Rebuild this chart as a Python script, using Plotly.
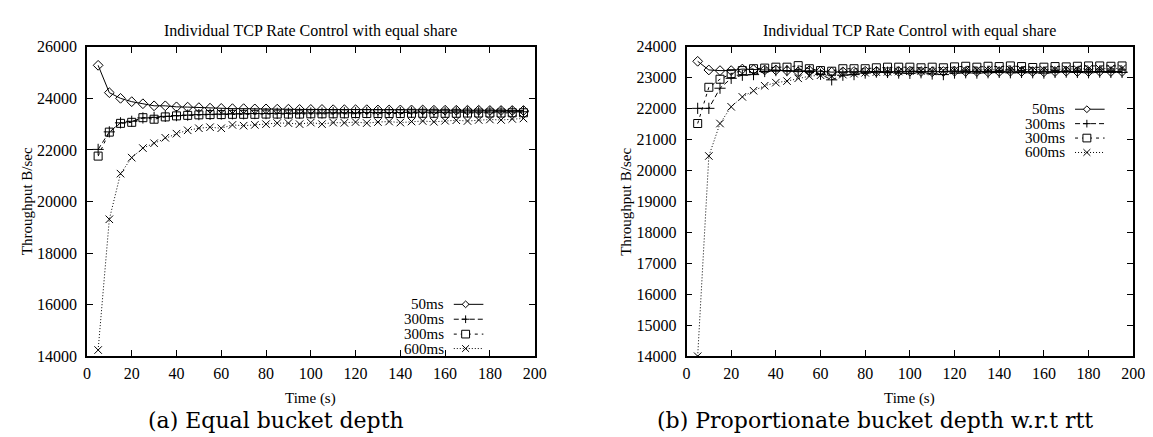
import plotly.graph_objects as go

W, H = 1153, 437

# ---------------- data ----------------
time_s = [5, 10, 15, 20, 25, 30, 35, 40, 45, 50, 55, 60, 65, 70, 75, 80, 85, 90, 95, 100,
          105, 110, 115, 120, 125, 130, 135, 140, 145, 150, 155, 160, 165, 170, 175, 180,
          185, 190, 195]

series_names = ["50ms", "300ms", "300ms", "600ms"]

# (a) Equal bucket depth
a_50 = [25280, 24220, 24000, 23870, 23790, 23710, 23710, 23670, 23660, 23640,
        23620, 23610, 23600, 23600, 23590, 23590, 23580, 23580, 23570, 23570,
        23570, 23560, 23560, 23560, 23560, 23550, 23550, 23550, 23550, 23550,
        23540, 23540, 23540, 23540, 23540, 23530, 23530, 23530, 23530]
a_300p = [22020, 22700, 23050, 23110, 23240, 23260, 23300, 23330, 23350, 23370,
          23380, 23390, 23400, 23400, 23410, 23410, 23420, 23420, 23430, 23430,
          23430, 23440, 23440, 23440, 23450, 23450, 23450, 23450, 23460, 23460,
          23460, 23460, 23470, 23470, 23470, 23470, 23480, 23480, 23480]
a_300s = [21760, 22690, 23030, 23070, 23250, 23190, 23280, 23320, 23340, 23360,
          23370, 23370, 23380, 23380, 23380, 23390, 23390, 23390, 23390, 23400,
          23400, 23400, 23400, 23410, 23410, 23410, 23410, 23410, 23420, 23420,
          23420, 23420, 23420, 23430, 23430, 23430, 23430, 23440, 23440]
a_600 = [14240, 19310, 21080, 21700, 22070, 22260, 22470, 22630, 22760, 22840,
         22880, 22840, 22970, 22940, 22970, 23000, 23040, 23040, 23000, 23060,
         23000, 23060, 23050, 23080, 23040, 23080, 23100, 23060, 23100, 23120,
         23090, 23130, 23150, 23120, 23160, 23180, 23160, 23200, 23220]

# (b) Proportionate bucket depth w.r.t rtt
b_50 = [23530, 23250, 23230, 23230, 23280, 23260, 23250, 23250, 23230, 23190,
        23230, 23210, 23180, 23190, 23200, 23210, 23200, 23190, 23200, 23210,
        23200, 23190, 23200, 23210, 23200, 23200, 23190, 23200, 23210, 23200,
        23200, 23190, 23200, 23210, 23200, 23200, 23210, 23200, 23200]
b_300p = [22010, 22010, 22660, 22980, 23080, 23100, 23200, 23230, 23230, 23220,
          23200, 23110, 22930, 23080, 23100, 23150, 23180, 23170, 23150, 23140,
          23160, 23120, 23100, 23150, 23160, 23150, 23160, 23170, 23160, 23170,
          23160, 23150, 23170, 23180, 23170, 23160, 23180, 23170, 23170]
b_300s = [21520, 22690, 22950, 23130, 23230, 23290, 23310, 23340, 23340, 23390,
          23290, 23230, 23210, 23290, 23290, 23290, 23320, 23340, 23340, 23340,
          23320, 23340, 23320, 23350, 23370, 23340, 23370, 23360, 23380, 23360,
          23330, 23340, 23360, 23350, 23370, 23380, 23380, 23370, 23380]
b_600 = [14000, 20470, 21520, 22060, 22380, 22580, 22740, 22840, 22890, 22980,
         23050, 23080, 23050, 23100, 23130, 23160, 23180, 23190, 23200, 23210,
         23220, 23200, 23220, 23240, 23240, 23250, 23250, 23260, 23270, 23260,
         23250, 23260, 23270, 23280, 23280, 23290, 23290, 23300, 23300]

x_ticks = [0, 20, 40, 60, 80, 100, 120, 140, 160, 180, 200]
ya_ticks = [14000, 16000, 18000, 20000, 22000, 24000, 26000]
yb_ticks = [14000, 15000, 16000, 17000, 18000, 19000, 20000, 21000, 22000, 23000, 24000]

plot_title = "Individual TCP Rate Control with equal share"
y_title = "Throughput B/sec"
x_title = "Time (s)"
captions = ["(a) Equal bucket depth", "(b) Proportionate bucket depth w.r.t rtt"]

# ---------------- styles ----------------
styles = [
    dict(symbol="diamond-open", size=7.5, dash="solid"),
    dict(symbol="cross-thin-open", size=8, dash="5px,3px"),
    dict(symbol="square-open", size=8, dash="3px,4px"),
    dict(symbol="x-thin-open", size=7.5, dash="1px,2px"),
]

SERIF = "Liberation Serif"


def px(x):
    return x / W


def py(y):
    return 1 - y / H


fig = go.Figure()

panels = [
    dict(xa="x", ya="y", data=[a_50, a_300p, a_300s, a_600]),
    dict(xa="x2", ya="y2", data=[b_50, b_300p, b_300s, b_600]),
]
for p in panels:
    for name, vals, st in zip(series_names, p["data"], styles):
        fig.add_trace(go.Scatter(
            x=time_s, y=vals, name=name, xaxis=p["xa"], yaxis=p["ya"],
            mode="lines+markers", showlegend=False,
            line=dict(color="black", width=1, dash=st["dash"]),
            marker=dict(symbol=st["symbol"], size=st["size"], color="black",
                        line=dict(color="black", width=1)),
        ))

ydom = [py(354), py(32)]
axis_common = dict(showline=True, linecolor="black", linewidth=1.5, mirror="ticks",
                   ticks="inside", ticklen=6, tickwidth=1, tickcolor="black",
                   showgrid=False, zeroline=False, tickformat="d",
                   tickfont=dict(family=SERIF, size=16, color="black"))

fig.update_layout(
    width=W, height=H, margin=dict(l=0, r=0, t=0, b=0),
    paper_bgcolor="white", plot_bgcolor="white", showlegend=False,
    xaxis=dict(domain=[px(76), px(530)], range=[0, 200], tickvals=x_ticks,
               anchor="y", ticklabelstandoff=2, **axis_common),
    yaxis=dict(domain=ydom, range=[14000, 26000], tickvals=ya_ticks,
               anchor="x", ticklabelstandoff=5, **axis_common),
    xaxis2=dict(domain=[px(684), px(1137)], range=[0, 200], tickvals=x_ticks,
                anchor="y2", ticklabelstandoff=2, **axis_common),
    yaxis2=dict(domain=ydom, range=[14000, 24000], tickvals=yb_ticks,
                anchor="x2", ticklabelstandoff=5, **axis_common),
)

ann = []
shapes = []
font15 = dict(family=SERIF, size=15, color="black")

# titles, axis titles, captions
for cx, capx, cap in [(303, 268, captions[0]), (910, 875, captions[1])]:
    ann.append(dict(x=px(cx), y=py(16), xref="paper", yref="paper", text=plot_title,
                    showarrow=False, font=dict(family=SERIF, size=16, color="black"),
                    xanchor="center", yanchor="middle"))
    ann.append(dict(x=px(cx), y=py(398), xref="paper", yref="paper", text=x_title,
                    showarrow=False, font=font15, xanchor="center", yanchor="middle"))
    ann.append(dict(x=px(capx), y=py(421), xref="paper", yref="paper", text=cap,
                    showarrow=False, font=dict(family="DejaVu Serif", size=22, color="black"),
                    xanchor="center", yanchor="middle"))
for tx in (16, 623):
    ann.append(dict(x=px(tx), y=py(193), xref="paper", yref="paper", text=y_title,
                    showarrow=False, font=font15, textangle=-90,
                    xanchor="center", yanchor="middle"))


# legends (gnuplot style: text left, sample right)
def marker_path(kind, cx, cy, r):
    dx, dy = r / W, r / H
    X, Y = px(cx), py(cy)
    if kind == 0:
        return f"M {X-dx},{Y} L {X},{Y+dy} L {X+dx},{Y} L {X},{Y-dy} Z"
    if kind == 1:
        return f"M {X-dx},{Y} L {X+dx},{Y} M {X},{Y-dy} L {X},{Y+dy}"
    if kind == 2:
        return f"M {X-dx},{Y-dy} L {X+dx},{Y-dy} L {X+dx},{Y+dy} L {X-dx},{Y+dy} Z"
    return f"M {X-dx},{Y-dy} L {X+dx},{Y+dy} M {X-dx},{Y+dy} L {X+dx},{Y-dy}"


legend_specs = [
    dict(text_right=439, s0=448, s1=478, rows=[300, 315.5, 331, 346]),
    dict(text_right=1069, s0=1078, s1=1108, rows=[97, 112, 127, 142]),
]
radii = [3.5, 4, 4, 3.5]
for spec in legend_specs:
    for i, (name, st, ry) in enumerate(zip(series_names, styles, spec["rows"])):
        ann.append(dict(x=px(spec["text_right"]), y=py(ry), xref="paper", yref="paper",
                        text=name, showarrow=False,
                        font=dict(family=SERIF, size=15, color="black"),
                        xanchor="right", yanchor="middle", borderpad=0))
        shapes.append(dict(type="line", xref="paper", yref="paper",
                           x0=px(spec["s0"]), x1=px(spec["s1"]), y0=py(ry), y1=py(ry),
                           line=dict(color="black", width=1, dash=st["dash"])))
        mx = (spec["s0"] + spec["s1"]) / 2 - 3
        shapes.append(dict(type="path", xref="paper", yref="paper",
                           path=marker_path(i, mx, ry, radii[i]),
                           fillcolor="white" if i in (0, 2) else None,
                           line=dict(color="black", width=1)))

fig.update_layout(annotations=ann, shapes=shapes)

fig.write_html("out.html")
